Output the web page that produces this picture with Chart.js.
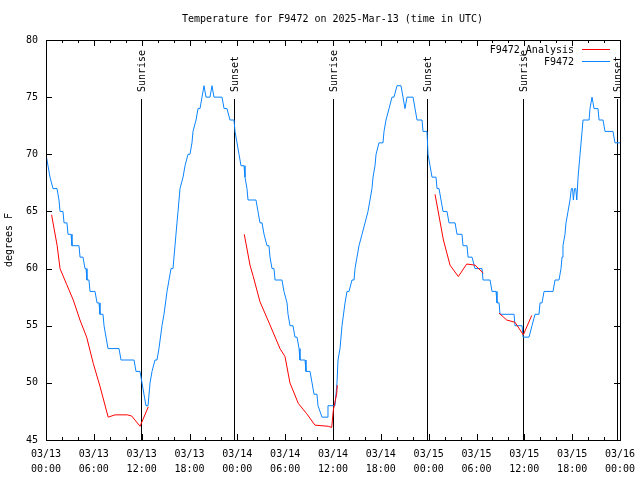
<!DOCTYPE html>
<html>
<head>
<meta charset="utf-8">
<script src="https://cdn.jsdelivr.net/npm/chart.js@4.4.1/dist/chart.umd.min.js"></script>
<style>
html,body{margin:0;padding:0;background:#fff;}
canvas{display:block;}
</style>
</head>
<body>
<canvas id="c" width="640" height="480"></canvas>
<script>
// ---- data (hours since 2025-03-13 00:00 UTC, degrees F) ----
const titleText = 'Temperature for F9472 on 2025-Mar-13 (time in UTC)';
const yAxisTitle = 'degrees F';
const seriesLabels = ['F9472_Analysis', 'F9472'];
const xTickLabels = [
  ['03/13','00:00'],['03/13','06:00'],['03/13','12:00'],['03/13','18:00'],
  ['03/14','00:00'],['03/14','06:00'],['03/14','12:00'],['03/14','18:00'],
  ['03/15','00:00'],['03/15','06:00'],['03/15','12:00'],['03/15','18:00'],
  ['03/16','00:00']
];
const sunHours = [11.88, 23.62, 35.96, 47.75, 59.87, 71.67];
const sunLabels = ['Sunrise','Sunset','Sunrise','Sunset','Sunrise','Sunset'];

const analysisObs = [
  [0.7,64.7],[1.4,62.0],[1.76,60.0],[2.6,58.6],[3.42,57.25],[4.26,55.5],[5.1,54.0],[5.93,51.7],
  [6.77,49.7],[7.8,47.0],[8.66,47.2],[10.2,47.2],[10.75,47.1],[11.8,46.2],[12.83,47.9],
  [18,null],
  [24.87,63.0],[25.59,60.3],[26.0,59.3],[26.84,57.1],[28.1,55.06],[29.35,53.0],[29.98,52.3],
  [30.6,50.0],[31.65,48.2],[32.7,47.3],[33.74,46.3],[35.41,46.2],[35.84,46.1],[36.04,47.6],
  [36.47,49.1],[36.54,49.8],
  [42,null],
  [48.8,66.5],[49.85,62.5],[50.68,60.3],[51.72,59.3],[52.77,60.4],[53.81,60.3],[54.86,59.6],
  [55.8,null],
  [56.83,56.1],[57.79,55.5],[58.83,55.3],[59.87,54.2],[60.93,55.9]
];

const stationObs = [
  [0,70],[0.25,69],[0.5,68],[0.88,67],[1.38,67],[1.63,66],[1.76,65],[2.13,65],[2.26,64],[2.63,64],
  [2.76,63],[3.14,63],[3.26,62],[4.14,62],[4.27,61],[4.64,61],[4.89,60],[5.02,60],[5.14,59],[5.39,59],
  [5.52,58],[6.15,58],[6.4,57],[6.65,57],[6.77,56],[7.15,56],[7.28,55],[7.53,54],[7.78,53],[9.16,53],
  [9.41,52],[11.04,52],[11.29,51],[11.79,51],[12.04,50],[12.29,49],[12.54,48],[12.8,48],[13.05,50],[13.3,51],
  [13.67,52],[13.92,52],[14.17,53],[14.55,55],[14.8,56],[15.18,58],[15.43,59],[15.68,60],[15.93,60],[16.18,62],
  [16.43,64],[16.56,65],[16.81,67],[17.19,68],[17.44,69],[17.81,70],[18.06,70],[18.31,71],[18.44,72],[18.82,73],
  [19.07,74],[19.32,74],[19.57,75],[19.82,76],[20.07,75],[20.57,75],[20.82,76],[21.07,75],[22.08,75],[22.33,74],
  [22.7,74],[23.08,73],[23.58,73],[23.71,72],[23.96,71],[24.21,70],[24.46,69],[24.84,69],[24.96,68],[25.21,67],
  [25.34,66],[26.34,66],[26.59,65],[26.84,64],[27.1,64],[27.35,63],[27.72,62],[27.97,62],[28.1,61],[28.35,60],
  [28.6,60],[28.73,59],[29.6,59],[29.85,58],[30.23,57],[30.36,56],[30.61,55],[30.98,55],[31.23,54],[31.49,54],
  [31.74,53],[31.86,52],[32.49,52],[32.61,51],[33.12,51],[33.37,50],[33.62,49],[33.99,49],[34.12,48],[34.62,47],
  [35.25,47],[35.37,48],[36.25,48],[36.5,50],[36.63,52],[36.88,53],[37.13,55],[37.51,57],[37.76,58],[38.01,58],
  [38.38,59],[38.64,59],[38.76,60],[39.01,61],[39.26,62],[39.64,63],[40.02,64],[40.39,65],[40.64,66],[40.89,67],
  [41.02,68],[41.27,69],[41.4,70],[41.77,71],[42.27,71],[42.4,72],[42.65,73],[43.03,74],[43.4,75],[43.65,75],
  [44.03,76],[44.53,76],[44.78,75],[45.03,74],[45.28,75],[46.04,75],[46.29,74],[46.54,73],[47.17,73],[47.29,72],
  [47.79,72],[47.92,70],[48.17,69],[48.42,68],[48.92,68],[49.05,67],[49.3,67],[49.55,66],[49.8,65],[50.3,65],
  [50.55,64],[51.31,64],[51.56,63],[52.18,63],[52.31,62],[52.81,62],[52.94,61],[53.44,61],[53.81,60],[54.69,60],
  [54.82,59],[55.7,59],[55.95,58],[56.45,58],[56.57,57],[56.83,57],[56.95,56],[58.71,56],[58.83,55],[59.71,55],
  [59.84,54],[60.59,54],[60.96,55],[61.34,56],[61.84,56],[61.97,57],[62.22,57],[62.47,58],[63.6,58],[63.85,59],
  [64.35,59],[64.6,60],[64.73,61],[64.85,62],[65.1,63],[65.23,64],[65.48,65],[65.73,66],[65.9,67],[66.05,67],
  [66.15,66],[66.3,67],[66.45,67],[66.58,66],[66.74,68],[66.99,70],[67.24,72],[67.36,73],[68.12,73],[68.24,74],
  [68.49,75],[68.62,74.5],[68.74,74],[69.24,74],[69.37,73],[69.87,73],[70.12,72],[71.12,72],[71.37,71],[72,71]
];

const FONT_FAMILY = '"DejaVu Sans Mono", "Liberation Mono", monospace';
const FONT = '10px ' + FONT_FAMILY;
const seriesColors = ['#ff0000', '#0a84ff'];

const decor = {
  id: 'decor',
  beforeDatasetsDraw(chart) {
    const {ctx, chartArea: a, scales: {x}} = chart;
    ctx.save();
    ctx.strokeStyle = '#000';
    ctx.fillStyle = '#000';
    ctx.lineWidth = 1;
    ctx.font = FONT;
    sunHours.forEach((h, i) => {
      const px = Math.round(x.getPixelForValue(h)) + 0.5;
      ctx.beginPath();
      ctx.moveTo(px, a.top + 59);
      ctx.lineTo(px, a.bottom);
      ctx.stroke();
      ctx.save();
      ctx.translate(px + 1, a.top + 52);
      ctx.rotate(-Math.PI / 2);
      ctx.textAlign = 'left';
      ctx.textBaseline = 'middle';
      ctx.fillText(sunLabels[i], 0, 0);
      ctx.restore();
    });
    ctx.restore();
  },
  afterDraw(chart) {
    const {ctx, chartArea: a, scales: {x, y}} = chart;
    ctx.save();
    ctx.strokeStyle = '#000';
    ctx.fillStyle = '#000';
    ctx.lineWidth = 1;
    // border
    ctx.strokeRect(Math.round(a.left) + 0.5, Math.round(a.top) + 0.5,
                   Math.round(a.right - a.left), Math.round(a.bottom - a.top));
    // x ticks (major every 6h, minor every 2h), mirrored on top
    ctx.beginPath();
    for (let h = 0; h <= 72; h += 2) {
      const px = Math.round(x.getPixelForValue(h)) + 0.5;
      const len = (h % 6 === 0) ? 6 : 3;
      ctx.moveTo(px, a.bottom); ctx.lineTo(px, a.bottom - len);
      ctx.moveTo(px, a.top); ctx.lineTo(px, a.top + len);
    }
    for (let v = 45; v <= 80; v += 5) {
      const py = Math.round(y.getPixelForValue(v)) + 0.5;
      ctx.moveTo(a.left, py); ctx.lineTo(a.left + 6, py);
      ctx.moveTo(a.right, py); ctx.lineTo(a.right - 6, py);
    }
    ctx.stroke();
    // title
    ctx.font = FONT;
    ctx.textAlign = 'center';
    ctx.textBaseline = 'middle';
    ctx.fillText(titleText, (a.left + a.right) / 2 - 0.5, 19);
    // y axis title
    ctx.save();
    ctx.translate(9, (a.top + a.bottom) / 2);
    ctx.rotate(-Math.PI / 2);
    ctx.fillText(yAxisTitle, 0, 0);
    ctx.restore();
    // legend
    seriesLabels.forEach((label, i) => {
      const ly = a.top + 10 + i * 12;
      ctx.textAlign = 'right';
      ctx.fillStyle = '#000';
      ctx.fillText(label, a.right - 46, ly);
      ctx.fillStyle = seriesColors[i];
      ctx.fillRect(a.right - 38, Math.round(ly) - 1, 28, 1);
    });
    ctx.restore();
  }
};

new Chart(document.getElementById('c'), {
  type: 'line',
  data: {
    datasets: [
      {
        label: seriesLabels[0],
        data: analysisObs.map(p => ({x: p[0], y: p[1]})),
        borderColor: seriesColors[0],
        borderWidth: 1,
        pointRadius: 0,
        spanGaps: false,
        tension: 0,
        fill: false
      },
      {
        label: seriesLabels[1],
        data: stationObs.map(p => ({x: p[0], y: p[1]})),
        borderColor: seriesColors[1],
        borderWidth: 1,
        pointRadius: 0,
        tension: 0,
        fill: false
      }
    ]
  },
  options: {
    responsive: false,
    animation: false,
    devicePixelRatio: 1,
    layout: {padding: {top: 40, right: 20, left: 0, bottom: 0}},
    plugins: {legend: {display: false}, title: {display: false}, tooltip: {enabled: false}},
    scales: {
      x: {
        type: 'linear',
        min: 0, max: 72,
        afterFit(s) { s.height = 40; s.paddingLeft = 0; s.paddingRight = 0; },
        grid: {display: false, drawTicks: false},
        border: {display: false},
        ticks: {
          stepSize: 6,
          autoSkip: false,
          maxRotation: 0,
          padding: 7,
          color: '#000',
          font: {family: FONT_FAMILY, size: 10, lineHeight: 1.5},
          callback: (v) => xTickLabels[Math.round(v / 6)]
        }
      },
      y: {
        min: 45, max: 80,
        afterFit(s) { s.width = 46; s.paddingTop = 0; s.paddingBottom = 0; },
        grid: {display: false, drawTicks: false},
        border: {display: false},
        ticks: {
          stepSize: 5,
          padding: 8,
          color: '#000',
          font: {family: FONT_FAMILY, size: 10}
        }
      }
    }
  },
  plugins: [decor]
});
</script>
</body>
</html>
